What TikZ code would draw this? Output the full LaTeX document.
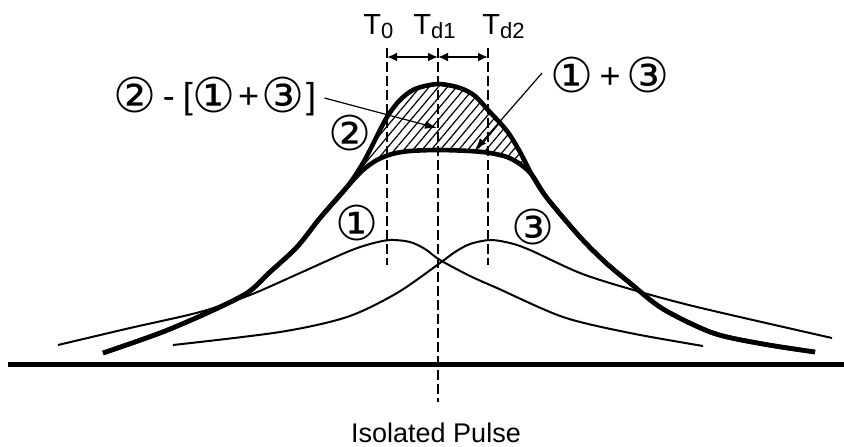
\documentclass[tikz,border=0pt]{standalone}
\usepackage{fontspec}
\setmainfont{Liberation Sans}
\newfontfamily\circfont{DejaVu Sans}
\usetikzlibrary{arrows.meta,patterns.meta}

\newcommand{\cnum}[1]{{\circfont\fontsize{24}{24}\selectfont #1}}
\newcommand{\tsub}[1]{\raisebox{-2pt}{\fontsize{11}{11}\selectfont #1}}
\newcommand{\opsym}[1]{\raisebox{2pt}{\fontsize{18}{18}\selectfont #1}}

\begin{document}
\begin{tikzpicture}[x=0.5pt,y=-0.5pt,
  thincurve/.style={line width=1pt},
  thickcurve/.style={line width=2.3pt},
  guide/.style={line width=1.2pt,dash pattern=on 5pt off 2pt},
  dimline/.style={line width=1pt,{Latex[length=5pt,width=4.5pt]}-{Latex[length=5pt,width=4.5pt]}},
  leader/.style={line width=0.6pt,-{Latex[length=6pt,width=4pt]}},
  tlabel/.style={inner sep=0pt,anchor=base west,font=\fontsize{14.5}{14.5}\selectfont}]
\useasboundingbox (0,0) rectangle (844,446);
% time marks
\coordinate (t0top) at (387,48);\coordinate (t0bot) at (387,265);
\coordinate (td1top) at (438,48);\coordinate (td1bot) at (438,402);
\coordinate (td2top) at (488,48);\coordinate (td2bot) at (488,265);
\coordinate (t0dim) at (387,57);\coordinate (td1dim) at (438,57);\coordinate (td2dim) at (488,57);
\node[tlabel] (t0) at (363,34) {T\tsub{0}};
\node[tlabel] (td1) at (413,34) {T\tsub{d1}};
\node[tlabel] (td2) at (482,34) {T\tsub{d2}};
% shaded difference
\fill[pattern={Lines[angle=50,distance=3.5pt,line width=0.6pt]}]
  plot[smooth] coordinates {(347,187) (363,163) (375,140) (387,117) (400,100) (415,89) (438,84) (460,88) (475,96) (488,110) (507,131) (520,152) (532,175)}
  -- plot[smooth] coordinates {(532,175) (520,164) (507,157) (490,153) (470,151) (438,150) (410,151) (392,154) (377,160) (363,170) (347,187)} -- cycle;
% single pulses
\draw[thincurve] plot[smooth] coordinates {(58,345) (130,328) (200,312) (250,295) (300,273) (347,252) (370,244) (390,240) (410,242) (425,249) (440,260) (470,276) (497,288) (563,317) (630,333) (703,346)};
\draw[thincurve] plot[smooth] coordinates {(173,345) (280,332) (347,317) (397,293) (440,263) (455,252) (470,244) (490,240) (510,243) (530,250) (580,273) (630,289) (697,307) (832,338)};
% sum and read-back pulse
\draw[thickcurve] plot[smooth] coordinates {(103,353) (160,333) (207,313) (247,293) (270,272) (297,247) (320,218) (347,187) (363,170) (377,160) (392,154) (410,151) (438,150) (470,151) (490,153) (507,157) (520,164) (532,175) (547,198) (580,237) (605,262) (630,283) (663,309) (713,333) (763,344) (815,352)};
\draw[thickcurve] plot[smooth] coordinates {(103,353) (160,333) (207,313) (247,293) (270,272) (297,247) (320,218) (347,187) (363,163) (375,140) (387,117) (400,100) (415,89) (438,84) (460,88) (475,96) (488,110) (507,131) (520,152) (532,175) (547,198) (580,237) (605,262) (630,283) (663,309) (713,333) (763,344) (815,352)};
% base line and marks
\draw[line width=2.5pt] (8,364) -- (844,364);
\draw[guide] (t0top) -- (t0bot);
\draw[guide] (td1top) -- (td1bot);
\draw[guide] (td2top) -- (td2bot);
\draw[dimline] (t0dim) -- (td1dim);
\draw[dimline] (td1dim) -- (td2dim);
% labels
\node[inner sep=0pt] (c2) at (350,133) {\cnum{②}};
\node[inner sep=0pt] (c1) at (357,223) {\cnum{①}};
\node[inner sep=0pt] (c3) at (533,227) {\cnum{③}};
\node[inner sep=0pt] (difflbl) at (215,97) {\cnum{②}\hspace{3pt}\opsym{-}\hspace{4pt}\opsym{[}\cnum{①}\hspace{1pt}\opsym{+}\hspace{1pt}\cnum{③}\hspace{1pt}\opsym{]}};
\node[inner sep=0pt] (sumlbl) at (610,75) {\cnum{①}\hspace{3pt}\opsym{+}\hspace{3pt}\cnum{③}};
\coordinate (diffpt) at (437,128);
\coordinate (sumpt) at (475,150);
\draw[leader] (difflbl.east) ++(8,1) -- (diffpt);
\draw[leader] (sumlbl.west) ++(-8,-2) -- (sumpt);
\node[inner sep=0pt,anchor=base,font=\fontsize{13.5}{13.5}\selectfont] (pulse) at (436,442) {Isolated Pulse};
\end{tikzpicture}
\end{document}
